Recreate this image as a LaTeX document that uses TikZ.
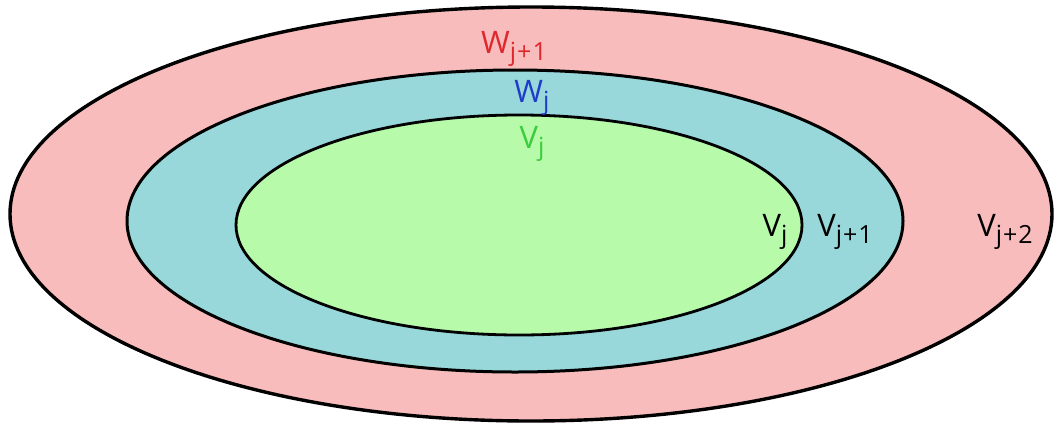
\documentclass[tikz,border=0pt]{standalone}
\usepackage{fontspec}
\setmainfont{Open Sans}
\definecolor{outerpink}{RGB}{248,188,188}
\definecolor{midteal}{RGB}{152,216,218}
\definecolor{innergreen}{RGB}{182,250,170}
\definecolor{lblred}{RGB}{222,40,45}
\definecolor{lblblue}{RGB}{30,60,200}
\definecolor{lblgreen}{RGB}{60,205,60}
\newcommand{\lbl}[2]{#1\raisebox{-7pt}{\fontsize{25}{25}\selectfont #2}}
\newcommand{\pl}{\kern1pt+\kern1pt}
\tikzset{
  ring/.style={draw=black, line width=#1},
  label/.style={font=\fontsize{31}{31}\selectfont, inner sep=0pt, anchor=base},
}
\begin{document}
\begin{tikzpicture}[x=1pt,y=-1pt]
\useasboundingbox (0,0) rectangle (1059,426);
\fill[white] (0,0) rectangle (1059,426);
\draw[ring=3.4pt, fill=outerpink] (531,214) ellipse [x radius=521, y radius=207];
\draw[ring=3pt, fill=midteal] (515,221) ellipse [x radius=388, y radius=151];
\draw[ring=2.8pt, fill=innergreen] (519,225) ellipse [x radius=283, y radius=110];
\node[label, text=lblred] (wj1) at (514,53) {\lbl{W}{j\pl1}};
\node[label, text=lblblue] (wj) at (532,102) {\lbl{W}{j}};
\node[label, text=lblgreen] (vjg) at (532,148) {\lbl{V}{j}};
\node[label] (vj) at (775,236) {\lbl{V}{j}};
\node[label] (vj1) at (845,236) {\lbl{V}{j\pl1}};
\node[label] (vj2) at (1005,236) {\lbl{V}{j\pl2}};
\end{tikzpicture}
\end{document}
